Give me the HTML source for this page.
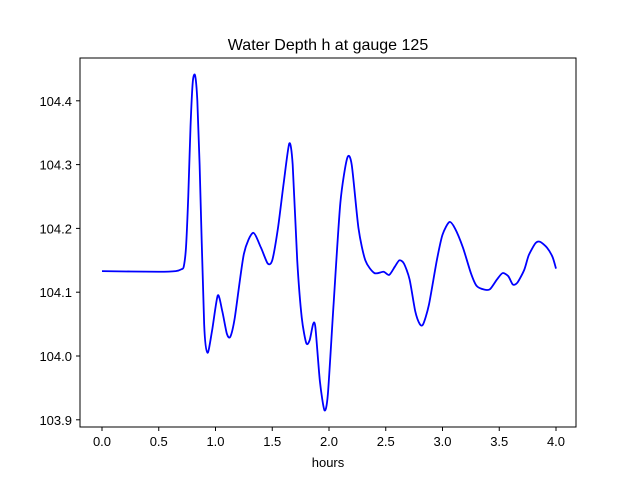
<!DOCTYPE html>
<html><head><meta charset="utf-8"><style>
body{margin:0;background:#fff}
svg text{font-family:"Liberation Sans","DejaVu Sans",sans-serif;fill:#000}
</style></head><body>
<svg id="chart" width="640" height="480" viewBox="0 0 640 480">
<rect x="0" y="0" width="640" height="480" fill="#fff"/>
<text x="328" y="50" font-size="16" text-anchor="middle">Water Depth h at gauge 125</text>
<g id="xticks"></g>
<g id="yticks"></g>
<path id="series" fill="none" stroke="#0000ff" stroke-width="1.8"/>
<rect x="80" y="58" width="496" height="369" fill="none" stroke="#000" stroke-width="1"/>
<text x="328" y="467" font-size="13" text-anchor="middle">hours</text>
</svg>
<script>
const times=[0,0.5,0.65,0.7,0.72,0.74,0.76,0.78,0.8,0.82,0.84,0.86,0.9,0.93,0.97,1.02,1.06,1.1,1.13,1.17,1.25,1.33,1.4,1.46,1.5,1.55,1.6,1.65,1.68,1.72,1.76,1.8,1.83,1.86,1.88,1.92,1.96,1.99,2.04,2.1,2.16,2.2,2.26,2.32,2.4,2.48,2.53,2.58,2.62,2.66,2.71,2.76,2.8,2.83,2.88,2.95,3.0,3.06,3.11,3.18,3.25,3.3,3.37,3.42,3.48,3.53,3.58,3.62,3.66,3.72,3.76,3.82,3.86,3.92,3.97,4.0];
const depths=[104.133,104.132,104.133,104.136,104.14,104.17,104.25,104.36,104.43,104.44,104.4,104.3,104.05,104.005,104.04,104.095,104.07,104.035,104.03,104.06,104.16,104.193,104.17,104.145,104.15,104.2,104.27,104.333,104.3,104.15,104.06,104.02,104.025,104.05,104.045,103.96,103.915,103.94,104.08,104.24,104.31,104.3,104.2,104.15,104.13,104.132,104.127,104.14,104.15,104.145,104.12,104.07,104.05,104.05,104.08,104.15,104.19,104.21,104.2,104.17,104.13,104.11,104.104,104.105,104.12,104.13,104.125,104.112,104.115,104.135,104.158,104.177,104.179,104.17,104.155,104.137];
const xTickLabels=["0.0","0.5","1.0","1.5","2.0","2.5","3.0","3.5","4.0"];
const yTickLabels=["103.9","104.0","104.1","104.2","104.3","104.4"];
const NS="http://www.w3.org/2000/svg";
const xs=t=>102+t*113.5;
const ys=v=>356-(v-104.0)*638;
const xg=document.getElementById('xticks'),yg=document.getElementById('yticks');
xTickLabels.forEach(l=>{const x=xs(parseFloat(l));
 const ln=document.createElementNS(NS,'line');
 
 
 ln.setAttribute('x1',x);ln.setAttribute('x2',x);ln.setAttribute('y1',427);ln.setAttribute('y2',431);ln.setAttribute('stroke','#000');xg.appendChild(ln);
 const tx=document.createElementNS(NS,'text');
 
 
 tx.setAttribute('x',x);tx.setAttribute('y',446);tx.setAttribute('font-size','13');tx.setAttribute('text-anchor','middle');tx.textContent=l;xg.appendChild(tx);});
yTickLabels.forEach(l=>{const y=ys(parseFloat(l));
 const ln=document.createElementNS(NS,'line');
 
 
 ln.setAttribute('x1',76);ln.setAttribute('x2',80);ln.setAttribute('y1',y);ln.setAttribute('y2',y);ln.setAttribute('stroke','#000');yg.appendChild(ln);
 const tx=document.createElementNS(NS,'text');
 
 
 tx.setAttribute('x',72);tx.setAttribute('y',y+5);tx.setAttribute('font-size','13');tx.setAttribute('text-anchor','end');tx.textContent=l;yg.appendChild(tx);});
const P=times.map((t,i)=>[xs(t),ys(depths[i])]);
let d='M'+P[0][0]+','+P[0][1];
const k=8;
for(let i=0;i<P.length-1;i++){const p0=P[Math.max(i-1,0)],p1=P[i],p2=P[i+1],p3=P[Math.min(i+2,P.length-1)];
 d+=' C'+(p1[0]+(p2[0]-p0[0])/k)+','+(p1[1]+(p2[1]-p0[1])/k)+' '+(p2[0]-(p3[0]-p1[0])/k)+','+(p2[1]-(p3[1]-p1[1])/k)+' '+p2[0]+','+p2[1];}
document.getElementById('series').setAttribute('d',d);
</script>
</body></html>
